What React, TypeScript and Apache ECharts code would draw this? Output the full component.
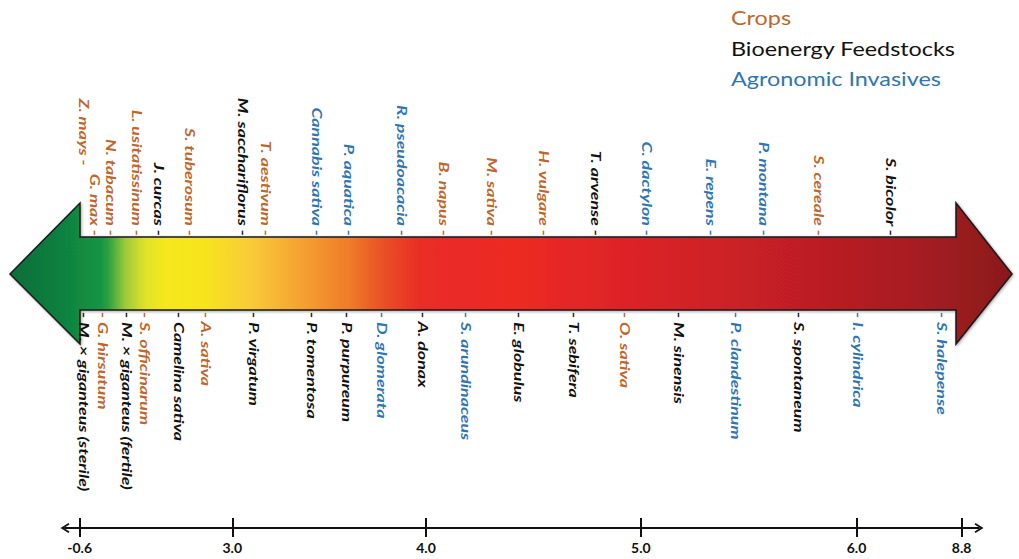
import React, { useEffect, useRef } from 'react';
import * as echarts from 'echarts';

// ---- data ----
const groups = ['Crops', 'Bioenergy Feedstocks', 'Agronomic Invasives'];
const groupColors = ['#c0662b', '#111111', '#2e75b6'];

// species above the arrow (position along the scale, 0–100)
const topNames = [
  'Z. mays - G. max', 'N. tabacum', 'L. usitatissinum', 'J. curcas', 'S. tuberosum',
  'M. sacchariflorus', 'T. aestivum', 'Cannabis sativa', 'P. aquatica', 'R. pseudoacacia',
  'B. napus', 'M. sativa', 'H. vulgare', 'T. arvense', 'C. dactylon', 'E. repens',
  'P. montana', 'S. cereale', 'S. bicolor',
];
const topGroups = [0, 0, 0, 1, 0, 1, 0, 2, 2, 2, 0, 0, 0, 1, 2, 2, 2, 0, 1];
const topPositions = [
  2.8, 5.1, 7.9, 10.4, 13.7, 19.5, 22.1, 27.6, 31.2, 37.0,
  41.5, 46.8, 52.5, 58.2, 63.8, 70.8, 76.6, 82.6, 90.5,
];

// species below the arrow
const bottomNames = [
  'M. × giganteus (sterile)', 'G. hirsutum', 'M. × giganteus (fertile)', 'S. officinarum',
  'Camelina sativa', 'A. sativa', 'P. virgatum', 'P. tomentosa', 'P. purpureum',
  'D. glomerata', 'A. donax', 'S. arundinaceus', 'E. globulus', 'T. sebifera',
  'O. sativa', 'M. sinensis', 'P. clandestinum', 'S. spontaneum', 'I. cylindrica',
  'S. halepense',
];
const bottomGroups = [1, 0, 1, 0, 1, 0, 1, 1, 1, 2, 1, 2, 1, 1, 0, 1, 2, 1, 2, 2];
const bottomPositions = [
  2.2, 4.2, 6.9, 8.8, 12.6, 15.5, 20.8, 27.1, 30.9, 34.8, 39.2,
  44.0, 49.8, 55.8, 61.3, 67.3, 73.5, 80.4, 86.8, 96.0,
];

// scale of the number line
const tickLabels = ['-0.6', '3.0', '4.0', '5.0', '6.0', '8.8'];
const tickPositions = [1.6, 18.3, 39.5, 63.0, 86.6, 98.1];

// ---- layout / style constants ----
const ARROW_TOP = 237;
const ARROW_BOTTOM = 310;
const HEAD_TOP = 203;
const HEAD_BOTTOM = 344;
const MID = 274;
const LEFT_TIP = 10;
const RIGHT_TIP = 1012;
const LEFT_NECK = 80;
const RIGHT_NECK = 956;
const LABEL_FONT = 14;
const LABEL_STRETCH = 1.27;
const LINE_STEP = 11;
const LEGEND_FONT = 19;
const LEGEND_STRETCH = 1.23;
const FONT = 'Lato';

const gradient = [
  [0, '#0e6e38'], [0.05, '#10803f'], [0.09, '#149443'], [0.098, '#2da043'],
  [0.115, '#9cc93a'], [0.135, '#e0e22a'], [0.155, '#f5e81b'], [0.195, '#f6e41e'],
  [0.24, '#f9cb38'], [0.289, '#f5a331'], [0.339, '#ef7b29'], [0.374, '#e94f26'],
  [0.409, '#e92d26'], [0.509, '#ec2a24'], [0.639, '#d92227'], [0.788, '#bf1f25'],
  [0.918, '#a31c21'], [1, '#8a191c'],
];

const chevron = 'path://M0 8 L5 0 L10 8 L8.4 9 L5 3.2 L1.6 9 Z';

let measureCtx: CanvasRenderingContext2D | null = null;
function textLength(s: string): number {
  if (!measureCtx) measureCtx = document.createElement('canvas').getContext('2d');
  if (!measureCtx) return s.length * LABEL_FONT * 0.5 * LABEL_STRETCH;
  measureCtx.font = `italic bold ${LABEL_FONT}px ${FONT}`;
  return measureCtx.measureText(s).width * LABEL_STRETCH;
}

export default function App() {
  const ref = useRef<HTMLDivElement>(null);

  useEffect(() => {
    if (!ref.current) return;
    const chart = echarts.init(ref.current, null, { renderer: 'svg' });

    const series = groups.map((g, gi) => {
      const items: { name: string; value: number[] }[] = [];
      topNames.forEach((n, i) => {
        if (topGroups[i] === gi) items.push({ name: n, value: [topPositions[i], 0] });
      });
      bottomNames.forEach((n, i) => {
        if (bottomGroups[i] === gi) items.push({ name: n, value: [bottomPositions[i], 1] });
      });
      const textStyle = (text: string, align: string) => ({
        text,
        fill: groupColors[gi],
        fontFamily: FONT,
        fontSize: LABEL_FONT,
        fontWeight: 'bold',
        fontStyle: 'italic',
        align,
        verticalAlign: 'middle',
      });
      return {
        type: 'custom',
        name: g,
        xAxisIndex: 0,
        yAxisIndex: 0,
        color: groupColors[gi],
        data: items,
        z: 5,
        renderItem: (params: any, api: any) => {
          const item = items[params.dataIndex];
          const x = api.coord([api.value(0), 0])[0];
          const isTop = api.value(1) === 0;
          if (!isTop) {
            return {
              type: 'text',
              x,
              y: ARROW_BOTTOM + 2,
              rotation: -Math.PI / 2,
              scaleX: LABEL_STRETCH,
              style: textStyle(`- ${item.name}`, 'left'),
            };
          }
          // a label may hold several names, flowing as staggered columns
          const parts = item.name.split(' - ').map((p) => `${p} -`);
          const n = parts.length;
          const children: any[] = [];
          let end = ARROW_TOP - 1;
          for (let k = n - 1; k >= 0; k--) {
            const offset = (k - (n - 1) / 2) * -LINE_STEP;
            children.push({
              type: 'text',
              x: x - offset,
              y: end,
              rotation: -Math.PI / 2,
              scaleX: LABEL_STRETCH,
              style: textStyle(parts[k], 'right'),
            });
            end -= textLength(parts[k]) + 8;
          }
          return { type: 'group', children };
        },
      };
    });

    const legendTexts = groups.map((g, i) => ({
      type: 'text',
      z: 10,
      silent: true,
      x: 731,
      y: 18 + i * 30.5,
      scaleX: LEGEND_STRETCH,
      style: {
        text: g,
        fill: groupColors[i],
        fontFamily: FONT,
        fontSize: LEGEND_FONT,
        align: 'left',
        verticalAlign: 'middle',
      },
    }));

    const option: any = {
      animation: false,
      backgroundColor: '#ffffff',
      grid: { left: 65, right: 40, top: 0, bottom: 31 },
      xAxis: [
        {
          type: 'value',
          min: 0,
          max: 100,
          position: 'bottom',
          axisLine: {
            show: true,
            lineStyle: { color: '#111', width: 2 },
            symbol: [chevron, chevron],
            symbolSize: [10, 9],
          },
          axisTick: {
            show: true,
            inside: true,
            length: 10,
            customValues: tickPositions,
            lineStyle: { color: '#111', width: 2 },
          },
          axisLabel: { show: false },
          splitLine: { show: false },
        },
        {
          type: 'value',
          min: 0,
          max: 100,
          position: 'bottom',
          axisLine: { show: false },
          axisTick: {
            show: true,
            length: 9,
            customValues: tickPositions,
            lineStyle: { color: '#111', width: 2 },
          },
          axisLabel: {
            show: true,
            customValues: tickPositions,
            formatter: (v: number) => {
              const i = tickPositions.indexOf(v);
              return i >= 0 ? tickLabels[i] : '';
            },
            margin: 12,
            fontFamily: FONT,
            fontWeight: 'bold',
            fontSize: 14,
            color: '#111',
          },
          splitLine: { show: false },
        },
      ],
      yAxis: { type: 'value', min: 0, max: 1, show: false },
      graphic: [
        {
          type: 'polygon',
          z: 1,
          silent: true,
          shape: {
            points: [
              [LEFT_TIP, MID], [LEFT_NECK, HEAD_TOP], [LEFT_NECK, ARROW_TOP],
              [RIGHT_NECK, ARROW_TOP], [RIGHT_NECK, HEAD_TOP], [RIGHT_TIP, MID],
              [RIGHT_NECK, HEAD_BOTTOM], [RIGHT_NECK, ARROW_BOTTOM],
              [LEFT_NECK, ARROW_BOTTOM], [LEFT_NECK, HEAD_BOTTOM],
            ],
          },
          style: {
            fill: new echarts.graphic.LinearGradient(
              0, 0, 1, 0,
              gradient.map(([offset, color]) => ({ offset: offset as number, color: color as string }))
            ),
            stroke: '#1a1a1a',
            lineWidth: 1.5,
            shadowBlur: 3,
            shadowOffsetX: 1,
            shadowOffsetY: 1,
            shadowColor: 'rgba(0,0,0,0.35)',
          },
        },
        ...legendTexts,
      ],
      series,
    };

    chart.setOption(option);
    return () => chart.dispose();
  }, []);

  return (
    <div
      ref={ref}
      style={{ position: 'fixed', left: 0, top: 0, width: 1019, height: 559, background: '#fff' }}
    />
  );
}
